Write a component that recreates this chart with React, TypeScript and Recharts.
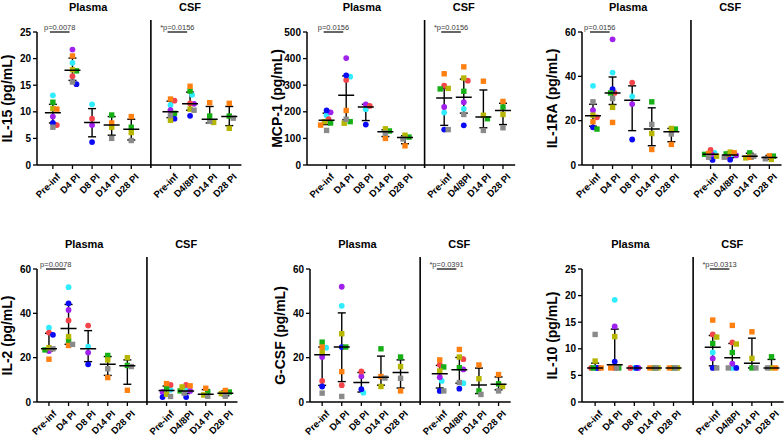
import React from 'react';
import { ScatterChart, Scatter, XAxis, YAxis, ErrorBar, ReferenceLine } from 'recharts';

type Row = (number | null)[];

const plasmaDays = ['Pre-inf', 'D4 PI', 'D8 PI', 'D14 PI', 'D28 PI'];
const csfDays = ['Pre-inf', 'D4/8PI', 'D14 PI', 'D28 PI'];

// subject order used by every value table below
const subjects = ['cyan', 'purple', 'red', 'blue', 'green', 'olive', 'orange', 'gray'];
const subjectColors = ['#30ecff', '#a020ee', '#f54449', '#0a0af5', '#16b016', '#b6b600', '#ff8010', '#8a8a8a'];
const subjectIsSquare = [false, false, false, false, true, true, true, true];

// IL-15
const il15Plasma: Row[] = [
  [13.1, 19.2, 11.4, null, null],
  [9.1, 21.7, 7.5, null, null],
  [7.5, 16.7, 8.7, null, null],
  [7.9, 15.2, 4.3, null, null],
  [11.8, 17.7, null, 9.4, 7.1],
  [10.6, 17.9, null, 7.1, 6.1],
  [10.5, 20.5, null, 7.9, 9.1],
  [7.1, 15.6, null, 5.0, 4.6],
];
const il15Csf: Row[] = [
  [11.3, 13.2, null, null],
  [10.3, 11.5, null, null],
  [12.1, 11.6, null, null],
  [8.7, 9.25, null, null],
  [9.7, 13.9, 9.2, 9.2],
  [8.4, 10.5, 8.0, 6.9],
  [12.4, 14.8, 11.7, 11.6],
  [9.3, 10.3, 8.2, 8.8],
];
const il15PlasmaMid = [9.8, 17.8, 8.0, 7.5, 6.7];
const il15PlasmaLo = [7.9, 15.9, 5.3, 5.6, 4.7];
const il15PlasmaHi = [11.4, 20.1, 10.6, 9.1, 8.6];
const il15CsfMid = [10.0, 11.5, 8.6, 9.1];
const il15CsfLo = [8.9, 10.3, 7.9, 7.4];
const il15CsfHi = [12.0, 13.7, 11.0, 11.0];

// MCP-1
const mcp1Plasma: Row[] = [
  [187, 332, 210, null, null],
  [198, 402, 228, null, null],
  [172, 320, 222, null, null],
  [205, 337, 152, null, null],
  [158, 163, null, 128, 105],
  [163, 157, null, 136, 112],
  [150, 205, null, 100, 72],
  [130, 172, null, 120, 98],
];
const mcp1Csf: Row[] = [
  [197, 211, null, null],
  [218, 236, null, null],
  [298, 317, null, null],
  [133, 149, null, null],
  [286, 277, 174, 218],
  [288, 327, 187, 190],
  [343, 369, 315, 239],
  [133, 190, 130, 140],
];
const mcp1PlasmaMid = [168, 262, 218, 125, 103];
const mcp1PlasmaLo = [152, 170, 167, 107, 80];
const mcp1PlasmaHi = [195, 335, 228, 132, 110];
const mcp1CsfMid = [252, 255, 180, 205];
const mcp1CsfLo = [149, 195, 140, 152];
const mcp1CsfHi = [288, 323, 282, 232];

// IL-1RA
const il1raPlasma: Row[] = [
  [35.7, 41.7, 31.0, null, null],
  [24.7, 56.7, 27.5, null, null],
  [21.5, 32.5, 37.2, null, null],
  [17.0, 34.2, 11.5, null, null],
  [16.2, 32.5, null, 28.5, 16.2],
  [22.5, 26.0, null, 14.2, 16.5],
  [19.5, 19.2, null, 7.0, 9.3],
  [28.5, 30.0, null, 18.3, 14.0],
];
const il1raCsf: Row[] = [
  [5.5, 4.8, null, null],
  [4.5, 4.3, null, null],
  [6.8, 4.0, null, null],
  [2.3, 2.4, null, null],
  [4.8, 5.0, 5.5, 4.0],
  [4.0, 5.8, 3.2, 2.5],
  [5.2, 5.5, 3.5, 4.1],
  [3.5, 3.5, 4.0, 2.8],
];
const il1raPlasmaMid = [22.2, 32.5, 29.2, 16.2, 15.0];
const il1raPlasmaLo = [17.5, 27.3, 15.5, 8.7, 10.5];
const il1raPlasmaHi = [27.4, 39.7, 35.7, 25.8, 16.5];
const il1raCsfMid = [4.8, 4.5, 4.0, 3.4];
const il1raCsfLo = [3.3, 3.3, 2.8, 2.5];
const il1raCsfHi = [5.8, 5.8, 5.3, 4.3];

// IL-2
const il2Plasma: Row[] = [
  [33.5, 51.8, 25.0, null, null],
  [23.0, 41.5, 22.3, null, null],
  [31.3, 36.8, 34.5, null, null],
  [30.3, 44.5, 17.0, null, null],
  [23.5, 27.5, null, 21.0, 16.5],
  [24.5, 29.5, null, 19.0, 20.0],
  [19.3, 25.5, null, 11.0, 5.3],
  [24.0, 26.0, null, 15.0, 16.0],
];
const il2Csf: Row[] = [
  [5.5, 5.3, null, null],
  [4.5, 5.0, null, null],
  [7.7, 7.7, null, null],
  [2.2, 2.2, null, null],
  [6.0, 5.0, 4.5, 4.5],
  [3.5, 6.8, 3.2, 3.8],
  [8.3, 7.3, 6.2, 5.2],
  [2.5, 4.0, 2.6, 2.6],
];
const il2PlasmaMid = [24.0, 33.2, 24.0, 17.0, 16.3];
const il2PlasmaLo = [23.0, 26.0, 18.2, 12.0, 8.0];
const il2PlasmaHi = [31.0, 44.0, 32.2, 20.5, 19.0];
const il2CsfMid = [5.2, 5.0, 3.5, 4.0];
const il2CsfLo = [3.0, 3.8, 2.5, 2.8];
const il2CsfHi = [7.2, 7.2, 5.6, 5.0];

// G-CSF
const gcsfPlasma: Row[] = [
  [24.5, 43.4, 4.2, null, null],
  [20.3, 52.0, 11.6, null, null],
  [9.5, 7.6, 13.8, null, null],
  [7.0, 24.8, 5.8, null, null],
  [27.0, 24.8, null, 24.0, 20.3],
  [22.5, 30.8, null, 7.0, 16.0],
  [24.8, 13.7, null, 11.5, 5.0],
  [4.0, 2.5, null, 10.8, 10.7],
];
const gcsfCsf: Row[] = [
  [9.5, 8.5, null, null],
  [11.2, 14.7, null, null],
  [16.8, 19.3, null, null],
  [5.0, 6.0, null, null],
  [15.8, 15.5, 5.0, 8.2],
  [14.0, 20.3, 10.5, 7.0],
  [19.0, 23.7, 16.7, 12.4],
  [5.0, 8.8, 3.4, 5.0],
];
const gcsfPlasmaMid = [21.3, 24.8, 8.8, 11.2, 13.3];
const gcsfPlasmaLo = [7.5, 9.2, 4.5, 7.6, 6.3];
const gcsfPlasmaHi = [24.8, 40.2, 13.3, 20.7, 19.0];
const gcsfCsfMid = [12.7, 14.6, 7.7, 8.0];
const gcsfCsfLo = [6.3, 8.5, 3.8, 5.5];
const gcsfCsfHi = [16.5, 20.1, 15.3, 11.3];

// IL-10
const il10Plasma: Row[] = [
  [6.4, 19.2, 6.4, null, null],
  [6.4, 14.2, 6.4, null, null],
  [6.4, 6.4, 6.4, null, null],
  [6.4, 7.6, 6.4, null, null],
  [6.4, 6.4, null, 6.4, 6.4],
  [7.7, 12.3, null, 6.4, 6.4],
  [6.4, 6.4, null, 6.4, 6.4],
  [12.7, 6.4, null, 6.4, 6.4],
];
const il10Csf: Row[] = [
  [9.3, 6.4, null, null],
  [8.2, 7.2, null, null],
  [12.7, 11.2, null, null],
  [6.4, 6.4, null, null],
  [11.0, 9.3, 6.4, 8.5],
  [12.2, 10.9, 8.2, 6.4],
  [15.4, 14.4, 13.2, 6.4],
  [6.4, 6.4, 6.4, 6.4],
];
const il10PlasmaMid = [6.4, 7.0, 6.4, 6.4, 6.4];
const il10PlasmaLo = [6.4, 6.4, 6.4, 6.4, 6.4];
const il10PlasmaHi = [7.3, 13.7, 6.4, 6.4, 6.4];
const il10CsfMid = [10.3, 8.3, 7.3, 6.4];
const il10CsfLo = [6.8, 6.4, 6.4, 6.4];
const il10CsfHi = [12.5, 11.0, 12.0, 8.0];

// layout constants
const SLOT = 19.6; // px per category slot
const PLOT_H = 133;
const TOP_H = 32;
const BOTTOM_H = 42;
const Y_W = 48;
const D1 = 10.62;
const MIN_D = 4;

interface PanelCfg {
  label: string;
  yMax: number;
  yTicks: number[];
  plasma: Row[];
  csf: Row[];
  pMid: number[]; pLo: number[]; pHi: number[];
  cMid: number[]; cLo: number[]; cHi: number[];
  pPlasma?: string;
  pCsf?: string;
  axisX: number;
  rowTop: number;
  d0: number;
}

const panels: PanelCfg[] = [
  { label: 'IL-15 (pg/mL)', yMax: 25, yTicks: [0, 5, 10, 15, 20, 25], plasma: il15Plasma, csf: il15Csf,
    pMid: il15PlasmaMid, pLo: il15PlasmaLo, pHi: il15PlasmaHi, cMid: il15CsfMid, cLo: il15CsfLo, cHi: il15CsfHi,
    pPlasma: 'p=0.0078', pCsf: '*p=0.0156', axisX: 37, rowTop: 0, d0: 0.19 },
  { label: 'MCP-1 (pg/mL)', yMax: 500, yTicks: [0, 100, 200, 300, 400, 500], plasma: mcp1Plasma, csf: mcp1Csf,
    pMid: mcp1PlasmaMid, pLo: mcp1PlasmaLo, pHi: mcp1PlasmaHi, cMid: mcp1CsfMid, cLo: mcp1CsfLo, cHi: mcp1CsfHi,
    pPlasma: 'p=0.0156', pCsf: '*p=0.0156', axisX: 307, rowTop: 0, d0: 0.0 },
  { label: 'IL-1RA (pg/mL)', yMax: 60, yTicks: [0, 20, 40, 60], plasma: il1raPlasma, csf: il1raCsf,
    pMid: il1raPlasmaMid, pLo: il1raPlasmaLo, pHi: il1raPlasmaHi, cMid: il1raCsfMid, cLo: il1raCsfLo, cHi: il1raCsfHi,
    pPlasma: 'p=0.0156', axisX: 582, rowTop: 0, d0: 0.44 },
  { label: 'IL-2 (pg/mL)', yMax: 60, yTicks: [0, 20, 40, 60], plasma: il2Plasma, csf: il2Csf,
    pMid: il2PlasmaMid, pLo: il2PlasmaLo, pHi: il2PlasmaHi, cMid: il2CsfMid, cLo: il2CsfLo, cHi: il2CsfHi,
    pPlasma: 'p=0.0078', axisX: 37, rowTop: 237, d0: 0.39 },
  { label: 'G-CSF (pg/mL)', yMax: 60, yTicks: [0, 20, 40, 60], plasma: gcsfPlasma, csf: gcsfCsf,
    pMid: gcsfPlasmaMid, pLo: gcsfPlasmaLo, pHi: gcsfPlasmaHi, cMid: gcsfCsfMid, cLo: gcsfCsfLo, cHi: gcsfCsfHi,
    pCsf: '*p=0.0391', axisX: 310, rowTop: 237, d0: 0.38 },
  { label: 'IL-10 (pg/mL)', yMax: 25, yTicks: [0, 5, 10, 15, 20, 25], plasma: il10Plasma, csf: il10Csf,
    pMid: il10PlasmaMid, pLo: il10PlasmaLo, pHi: il10PlasmaHi, cMid: il10CsfMid, cLo: il10CsfLo, cHi: il10CsfHi,
    pCsf: '*p=0.0313', axisX: 582, rowTop: 237, d0: 0.33 },
];

// spread overlapping points sideways (px offsets), one column at a time
function swarm(values: (number | null)[], pxPerY: number): number[] {
  const out = values.map(() => 0);
  const order = values
    .map((v, i) => ({ v, i }))
    .filter((e) => e.v != null)
    .sort((a, b) => (b.v as number) - (a.v as number));
  const placed: { dx: number; y: number }[] = [];
  const cands = [0, 2, -2, 4, -4, 6, -6];
  for (const e of order) {
    const y = (e.v as number) * pxPerY;
    let best = 0;
    let bestD = -1;
    for (const c of cands) {
      let md = Infinity;
      for (const p of placed) md = Math.min(md, Math.hypot(c - p.dx, y - p.y));
      if (md >= MIN_D) { best = c; break; }
      if (md > bestD) { bestD = md; best = c; }
    }
    placed.push({ dx: best, y });
    out[e.i] = best;
  }
  return out;
}

const catPos = (group: 'p' | 'c', i: number) => (group === 'p' ? i + 1 : i + 7);

const dayLabel = (v: number) => (v <= 5 ? plasmaDays[v - 1] : csfDays[v - 7]);

const XTick = (props: any) => {
  const { x, y, payload } = props;
  return (
    <text x={x} y={y} transform={`rotate(-45 ${x} ${y})`} textAnchor="end" dx={0.6} dy={11}
      fontSize={9.5} fontWeight="bold" fill="#000">
      {dayLabel(payload.value)}
    </text>
  );
};

const MeanShape = (props: any) => (
  <line x1={props.cx - 8} x2={props.cx + 8} y1={props.cy} y2={props.cy} stroke="#000" strokeWidth={1.5} />
);

function Panel({ cfg }: { cfg: PanelCfg }) {
  const plotW = (D1 - cfg.d0) * SLOT;
  const width = Y_W + plotW + 2;
  const height = TOP_H + PLOT_H + BOTTOM_H;
  const pxPerY = PLOT_H / cfg.yMax;

  // per-subject point lists
  const pts: { x: number; y: number }[][] = subjects.map(() => []);
  const addGroup = (rows: Row[], group: 'p' | 'c', n: number) => {
    for (let c = 0; c < n; c++) {
      const col = rows.map((r) => r[c]);
      const off = swarm(col, pxPerY);
      col.forEach((v, s) => {
        if (v != null) pts[s].push({ x: catPos(group, c) + off[s] / SLOT, y: v });
      });
    }
  };
  addGroup(cfg.plasma, 'p', plasmaDays.length);
  addGroup(cfg.csf, 'c', csfDays.length);

  const summary = [
    ...cfg.pMid.map((m, i) => ({ x: catPos('p', i), y: m, err: [m - cfg.pLo[i], cfg.pHi[i] - m] })),
    ...cfg.cMid.map((m, i) => ({ x: catPos('c', i), y: m, err: [m - cfg.cLo[i], cfg.cHi[i] - m] })),
  ];

  const divTop = cfg.yMax * (1 + 12 / PLOT_H);
  const divBottom = -cfg.yMax * (3 / PLOT_H);
  const pLabel = (value: string) => ({ value, position: 'top' as const, offset: 1.5, fontSize: 7.5, fill: '#3a3a3a' });

  return (
    <div style={{ position: 'absolute', left: cfg.axisX - Y_W, top: cfg.rowTop }}>
      <ScatterChart width={width} height={height} margin={{ top: 0, right: 2, bottom: 0, left: 0 }}>
        <XAxis xAxisId="t" orientation="top" type="number" dataKey="x" domain={[cfg.d0, D1]} allowDataOverflow
          ticks={[2.8, 8]} tickFormatter={(v: number) => (v < 6 ? 'Plasma' : 'CSF')} axisLine={false}
          tickLine={false} tickSize={0} tickMargin={21} height={TOP_H} interval={0}
          tick={{ fontSize: 11, fontWeight: 'bold', fill: '#000' }} />
        <XAxis xAxisId="b" type="number" dataKey="x" domain={[cfg.d0, D1]} allowDataOverflow
          ticks={[1, 2, 3, 4, 5, 7, 8, 9, 10]} interval={0} height={BOTTOM_H} tickSize={4} tickMargin={1}
          axisLine={{ stroke: '#000', strokeWidth: 1.5 }} tickLine={{ stroke: '#000', strokeWidth: 1.3 }}
          tick={<XTick />} />
        <YAxis type="number" dataKey="y" domain={[0, cfg.yMax]} allowDataOverflow ticks={cfg.yTicks}
          interval={0} width={Y_W} tickSize={4} tickMargin={2}
          axisLine={{ stroke: '#000', strokeWidth: 1.5 }} tickLine={{ stroke: '#000', strokeWidth: 1.3 }}
          tick={{ fontSize: 10, fontWeight: 'bold', fill: '#000' }}
          label={{ value: cfg.label, angle: -90, position: 'insideLeft', offset: Y_W - 30,
            style: { textAnchor: 'middle' }, fontSize: 14, fontWeight: 'bold', fill: '#000' }} />
        <ReferenceLine xAxisId="b" ifOverflow="visible" stroke="#000" strokeWidth={1.6}
          segment={[{ x: 6, y: divBottom }, { x: 6, y: divTop }]} />
        {cfg.pPlasma && (
          <ReferenceLine xAxisId="b" ifOverflow="visible" stroke="#000" strokeWidth={1.2}
            segment={[{ x: 0.85, y: cfg.yMax }, { x: 1.85, y: cfg.yMax }]} label={pLabel(cfg.pPlasma)} />
        )}
        {cfg.pCsf && (
          <ReferenceLine xAxisId="b" ifOverflow="visible" stroke="#000" strokeWidth={1.2}
            segment={[{ x: 6.85, y: cfg.yMax }, { x: 7.85, y: cfg.yMax }]} label={pLabel(cfg.pCsf)} />
        )}
        {subjects.map((s, i) => (
          <Scatter key={s} name={s} xAxisId="b" data={pts[i]} isAnimationActive={false}
            shape={(p: any) =>
              subjectIsSquare[i] ? (
                <rect x={p.cx - 2.7} y={p.cy - 2.7} width={5.4} height={5.4} fill={subjectColors[i]} />
              ) : (
                <circle cx={p.cx} cy={p.cy} r={2.9} fill={subjectColors[i]} />
              )
            } />
        ))}
        <Scatter name="mean" xAxisId="b" data={summary} isAnimationActive={false} shape={<MeanShape />}>
          <ErrorBar dataKey="err" direction="y" width={4} stroke="#000" strokeWidth={1.4} />
        </Scatter>
      </ScatterChart>
    </div>
  );
}

export default function App() {
  return (
    <div style={{ position: 'absolute', left: 0, top: 0, width: 784, height: 442, overflow: 'hidden',
      background: '#fff', fontFamily: 'Arial, "Liberation Sans", Helvetica, sans-serif' }}>
      {panels.map((p) => (
        <Panel key={p.label} cfg={p} />
      ))}
    </div>
  );
}
